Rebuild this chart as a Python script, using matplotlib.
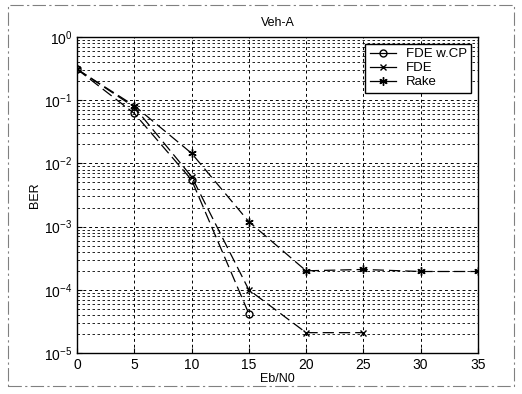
import matplotlib
matplotlib.use("Agg")
import matplotlib.pyplot as plt
from matplotlib.patches import Rectangle

plt.rcParams['font.family'] = ['Liberation Sans', 'DejaVu Sans']

ebn0_cp = [0, 5, 10, 15]
ber_cp = [0.31, 0.062, 0.0055, 4.2e-5]

ebn0_fde = [0, 5, 10, 15, 20, 25]
ber_fde = [0.31, 0.078, 0.0062, 1.0e-4, 2.1e-5, 2.1e-5]

ebn0_rake = [0, 5, 10, 15, 20, 25, 30, 35]
ber_rake = [0.31, 0.082, 0.0145, 1.2e-3, 2.0e-4, 2.1e-4, 1.95e-4, 1.95e-4]

fig = plt.figure(figsize=(5.22, 3.94), dpi=100)
ax = fig.add_axes([0.1475, 0.104, 0.768, 0.802])

ls = (0, (9, 4))
ax.semilogy(ebn0_cp, ber_cp, color='black', linestyle=ls, linewidth=0.9,
            marker='o', markersize=5, markerfacecolor='none', label='FDE w.CP')
ax.semilogy(ebn0_fde, ber_fde, color='black', linestyle=ls, linewidth=0.9,
            marker='x', markersize=4, label='FDE')
ax.semilogy(ebn0_rake, ber_rake, color='black', linestyle=ls, linewidth=0.9,
            marker=(6, 2, 0), markersize=6, label='Rake')

ax.set_xlim(0, 35)
ax.set_ylim(1e-5, 1)
ax.set_xticks([0, 5, 10, 15, 20, 25, 30, 35])
ax.grid(True, which='major', color='black', linestyle=(0, (3, 3)), linewidth=0.7)
ax.grid(True, which='minor', axis='y', color='black', linestyle=(0, (3, 3)), linewidth=0.6)
ax.tick_params(which='both', direction='in', labelsize=10, top=False, right=False)
ax.tick_params(which='minor', length=0)
for sp in ax.spines.values():
    sp.set_linewidth(1.0)

ax.set_title('Veh-A', fontsize=9, pad=8)
ax.set_xlabel('Eb/N0', fontsize=9, labelpad=1)
ax.set_ylabel('BER', fontsize=9, labelpad=2)

leg = ax.legend(loc='upper right', fontsize=9.5, frameon=True, fancybox=False,
                edgecolor='black', framealpha=1, borderaxespad=0.5,
                handlelength=2.0, labelspacing=0.12, borderpad=0.35,
                handletextpad=0.7)
leg.get_frame().set_linewidth(1.0)
for h in leg.get_lines():
    h.set_linestyle('-')

fig.patches.append(Rectangle((8/522, 1-386/394), (514-8)/522, (386-5)/394,
                             transform=fig.transFigure, fill=False,
                             edgecolor='gray', linestyle=(0, (12, 3, 2, 3)),
                             linewidth=0.8))

fig.savefig('out.png', dpi=100)
